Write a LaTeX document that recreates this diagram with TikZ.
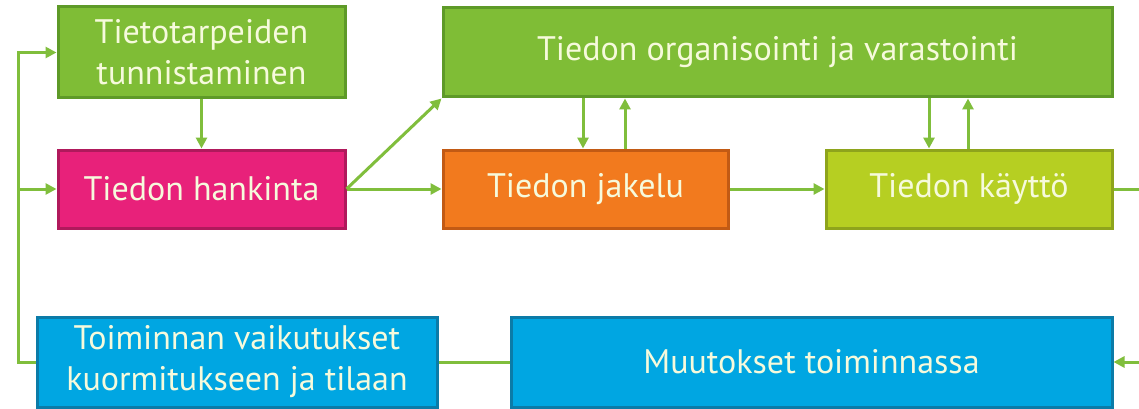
\documentclass[tikz,border=0pt]{standalone}
\usepackage{fontspec}
\setmainfont{PT Sans}
\usetikzlibrary{arrows.meta}
\definecolor{grn}{HTML}{7FBD36}
\definecolor{grnD}{HTML}{5E9A28}
\definecolor{pnk}{HTML}{E8217A}
\definecolor{pnkD}{HTML}{B0195C}
\definecolor{org}{HTML}{F27A1E}
\definecolor{orgD}{HTML}{C25A14}
\definecolor{ylg}{HTML}{B6CF22}
\definecolor{ylgD}{HTML}{8EA41C}
\definecolor{blu}{HTML}{00A6E2}
\definecolor{bluD}{HTML}{0B7BA8}
\definecolor{lnk}{HTML}{80BE3C}
\definecolor{txt}{HTML}{F6FADC}
\tikzset{
  box/.style={rectangle, line width=3pt, text=txt, align=center,
    font=\fontsize{34}{41}\selectfont, inner sep=0pt},
  arr/.style={draw=lnk, line width=3pt, -{Triangle[length=11pt,width=11pt]}},
  ln/.style={draw=lnk, line width=3pt},
}
\begin{document}
\begin{tikzpicture}[x=1pt,y=-1pt]
\useasboundingbox (0,0) rectangle (1139,409);
\fill[white] (0,0) rectangle (1139,409);
\clip (0,0) rectangle (1139,409);

\node[box, fill=grn, draw=grnD, minimum width=287, minimum height=91] (tun) at (201.5,52.5) {Tietotarpeiden\\tunnistaminen};
\node[box, fill=pnk, draw=pnkD, minimum width=287, minimum height=78] (han) at (201.5,189) {Tiedon hankinta};
\node[box, fill=grn, draw=grnD, minimum width=669, minimum height=89] (org) at (777.5,52.5) {Tiedon organisointi ja varastointi};
\node[box, fill=org, draw=orgD, minimum width=285, minimum height=78] (jak) at (585.5,189) {Tiedon jakelu};
\node[box, fill=ylg, draw=ylgD, minimum width=286, minimum height=78] (kay) at (969,189) {Tiedon käyttö};
\node[box, fill=blu, draw=bluD, minimum width=601, minimum height=90] (muu) at (811.5,362) {Muutokset toiminnassa};
\node[box, fill=blu, draw=bluD, minimum width=400, minimum height=90] (toi) at (237,362) {Toiminnan vaikutukset\\kuormitukseen ja tilaan};

% routing columns
\coordinate (cl) at (18,0);
\coordinate (cr) at (1152,0);
\coordinate (d1) at (583,0);
\coordinate (u1) at (625,0);
\coordinate (d2) at (929,0);
\coordinate (u2) at (968,0);

\draw[arr] (tun) -- (han);
\draw[arr] (han.east) -- (org.south west);
\draw[arr] (han) -- (jak);
\draw[arr] (jak) -- (kay);
\draw[arr] (org.south -| d1) -- (jak.north -| d1);
\draw[arr] (jak.north -| u1) -- (org.south -| u1);
\draw[arr] (org.south -| d2) -- (kay.north -| d2);
\draw[arr] (kay.north -| u2) -- (org.south -| u2);
\draw[arr] (kay.east) -- (kay.east -| cr) |- (muu.east);
\draw[ln] (muu.west) -- (toi.east);
\draw[arr] (toi.west) -- (toi.west -| cl) |- (tun.west);
\draw[arr] (han.west -| cl) -- (han.west);
\end{tikzpicture}
\end{document}
